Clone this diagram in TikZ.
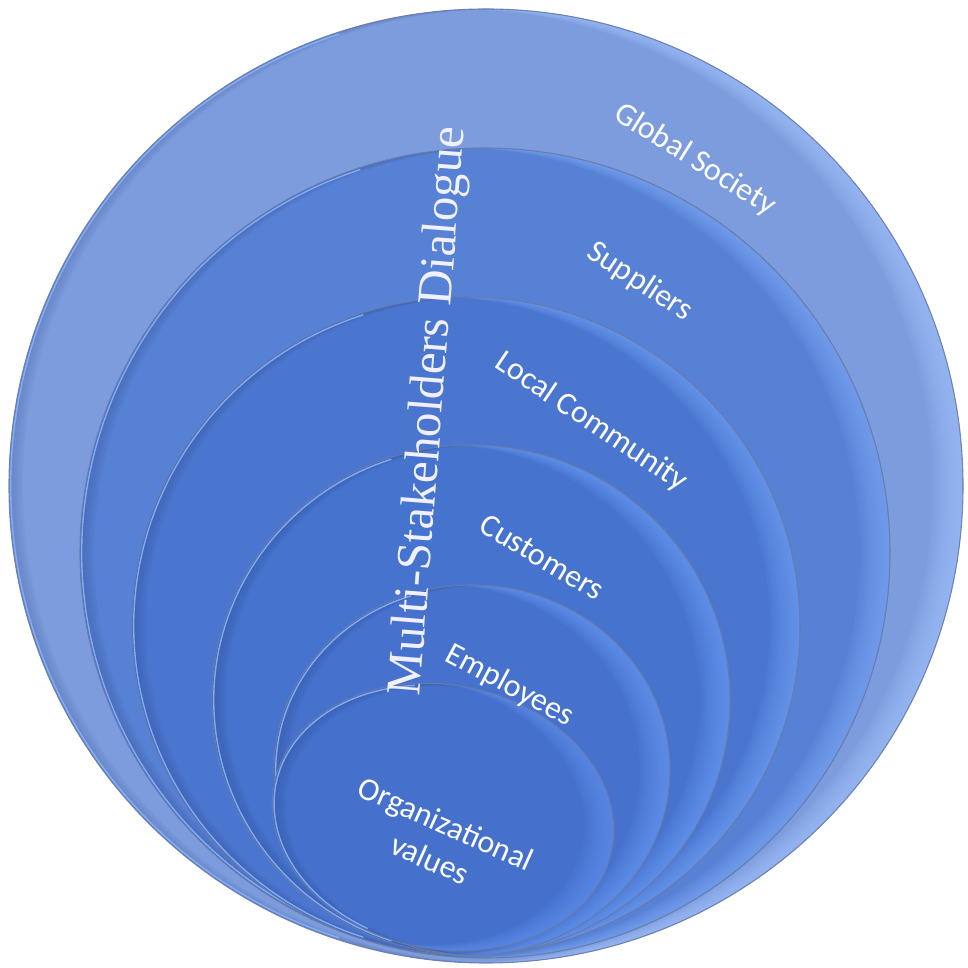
\documentclass[tikz,border=0pt]{standalone}
\usepackage{fontspec}
\setmainfont{Liberation Serif}
\newfontfamily\lblfont{Carlito}
\definecolor{oA}{HTML}{7C9CDD}\definecolor{lA}{HTML}{A4C4FF}\definecolor{dA}{HTML}{5F7BBA}
\definecolor{oB}{HTML}{5781D5}\definecolor{lB}{HTML}{7FAAF8}\definecolor{dB}{HTML}{4462A8}
\definecolor{oC}{HTML}{4B76CF}\definecolor{lC}{HTML}{72A2F8}\definecolor{dC}{HTML}{3A5CA6}
\definecolor{oD}{HTML}{4673CD}\definecolor{lD}{HTML}{6C9EF8}\definecolor{dD}{HTML}{375AA5}
\definecolor{oE}{HTML}{4672CD}\definecolor{lE}{HTML}{6A9BF6}\definecolor{dE}{HTML}{375AA5}
\definecolor{oF}{HTML}{4571CC}\definecolor{lF}{HTML}{6494F0}\definecolor{dF}{HTML}{375AA5}
\definecolor{edgegray}{HTML}{6A7DA8}
\definecolor{rimlight}{HTML}{86B2FF}
\newcommand\ringdraw[7]{%
  \begin{scope}
    \clip (#1,#2) ellipse[x radius=#3, y radius=#4];
    \fill[#5] (#1,#2) ellipse[x radius=#3, y radius=#4];
    \foreach \sh in {3,6,...,30}
      \fill[#6, opacity=0.1, even odd rule] (#1,#2) ellipse[x radius=#3, y radius=#4] (#1-\sh,#2) ellipse[x radius=#3, y radius=#4];
    \foreach \sh in {2,4,...,14}
      \fill[#7, opacity=0.11, even odd rule] (#1,#2) ellipse[x radius=#3, y radius=#4] (#1+\sh,#2) ellipse[x radius=#3, y radius=#4];
  \end{scope}
  \draw[edgegray, line width=1.1pt, opacity=0.9] (#1,#2) ellipse[x radius=#3, y radius=#4];
  \draw[rimlight, line width=1.4pt, opacity=0.9] ({#1+(#3-1.8)*cos(108)},{#2+(#4-1.8)*sin(108)}) arc[start angle=108, end angle=252, x radius=#3-1.8, y radius=#4-1.8];
}
\tikzset{
  lbl/.style={text=white, font=\lblfont\fontsize{32}{39}\selectfont, inner sep=0pt, align=center},
  ttl/.style={font=\fontsize{49}{55}\selectfont, inner sep=0pt, anchor=base, rotate=85.5}
}
\begin{document}
\begin{tikzpicture}[x=1pt, y=1pt]
\useasboundingbox (0,0) rectangle (967,968);
\fill[white] (0,0) rectangle (967,968);
% rings, outer to inner
\ringdraw{486}{482}{477}{477}{oA}{lA}{dA}
\ringdraw{485}{415}{405}{405}{oB}{lB}{dB}
\ringdraw{466}{342}{334}{329}{oC}{lC}{dC}
\ringdraw{471}{268}{259}{255}{oD}{lD}{dD}
\ringdraw{472}{198}{198}{185}{oE}{lE}{dE}
\begin{scope}[rotate around={-11:(443,151)}]
\ringdraw{443}{151}{172}{132}{oF}{lF}{dF}
\end{scope}
% title
\node[ttl, text=white!94!blue] (title) at (442,556) {Multi-Stakeholders Dialogue};
% labels
\node[lbl, rotate=-32] (tGlobal) at (695,808) {Global Society};
\node[lbl, rotate=-33] (tSuppliers) at (640,686) {Suppliers};
\node[lbl, rotate=-34] (tLocal) at (591,546) {Local Community};
\node[lbl, rotate=-31] (tCustomers) at (542,411) {Customers};
\node[lbl, rotate=-28] (tEmployees) at (510,282) {Employees};
\node[lbl, rotate=-24] (tOrg) at (438,127) {Organizational\\values};
\end{tikzpicture}
\end{document}
